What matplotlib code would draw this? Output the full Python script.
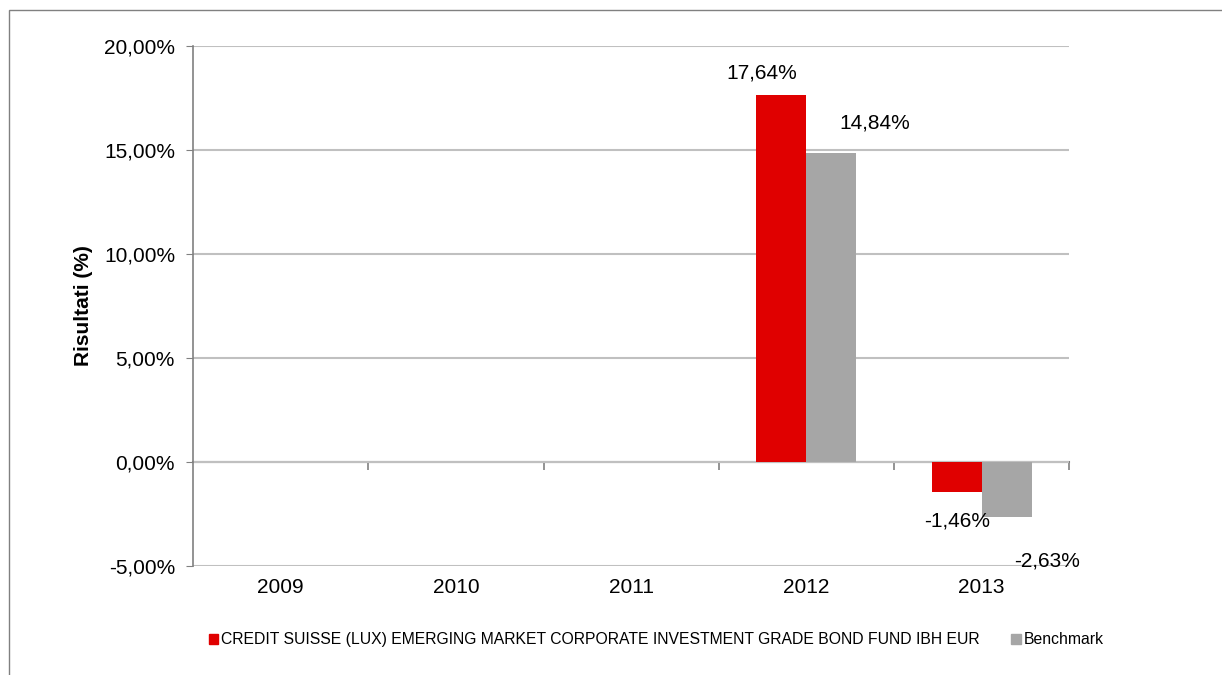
import numpy as np
import matplotlib.pyplot as plt
from matplotlib.patches import Rectangle, Patch

plt.rcParams['font.family'] = ['Liberation Sans', 'DejaVu Sans']

# dati
anni = ["2009", "2010", "2011", "2012", "2013"]
fondo = [np.nan, np.nan, np.nan, 17.64, -1.46]
benchmark = [np.nan, np.nan, np.nan, 14.84, -2.63]
nome_fondo = "CREDIT SUISSE (LUX) EMERGING MARKET CORPORATE INVESTMENT GRADE BOND FUND IBH EUR"
nome_bench = "Benchmark"

rosso = "#e00000"
grigio = "#a6a6a6"

fig = plt.figure(figsize=(12.22, 6.75), dpi=100)
ax = fig.add_axes([0.158, 0.1615, 0.717, 0.7704])

x = np.arange(len(anni))
w = 0.285
ax.bar(x - w / 2, fondo, w, color=rosso, zorder=3)
ax.bar(x + w / 2, benchmark, w, color=grigio, zorder=3)

# etichette
def fmt(v):
    return f"{v:.2f}%".replace(".", ",")

fs = 15
offs_f = [None, None, None, (-14, 9), (0, -14)]
offs_b = [None, None, None, (31, 15), (29, -25)]
for i in range(len(anni)):
    if not np.isnan(fondo[i]):
        va = "bottom" if fondo[i] >= 0 else "top"
        ax.annotate(fmt(fondo[i]), (x[i] - w / 2, fondo[i]), xytext=offs_f[i],
                    textcoords="offset points", ha="center", va=va, fontsize=fs)
    if not np.isnan(benchmark[i]):
        va = "bottom" if benchmark[i] >= 0 else "top"
        ax.annotate(fmt(benchmark[i]), (x[i] + w / 2, benchmark[i]), xytext=offs_b[i],
                    textcoords="offset points", ha="center", va=va, fontsize=fs)

ax.set_xlim(-0.5, len(anni) - 0.5)
ax.set_ylim(-5, 20)
ax.set_yticks([-5, 0, 5, 10, 15, 20])
ax.set_yticklabels([fmt(v) for v in [-5, 0, 5, 10, 15, 20]], fontsize=fs)
ax.set_xticks(x)
ax.set_xticklabels(anni, fontsize=fs)
ax.tick_params(axis="x", length=0, pad=9)
ax.tick_params(axis="y", length=5, color="#808080", direction="out", pad=8)
ax.grid(axis="y", color="#c0c0c0", lw=1.5, zorder=0)
for s in ["top", "right", "bottom"]:
    ax.spines[s].set_visible(False)
ax.spines["left"].set_color("#808080")
ax.spines["left"].set_linewidth(1.2)
ax.set_ylabel("Risultati (%)", fontsize=fs, fontweight="bold", labelpad=8)

# asse dello zero con tacche tra le categorie
sec = ax.secondary_xaxis(0.2)
sec.set_xticks(np.arange(len(anni)) + 0.5)
sec.set_xticklabels([])
sec.tick_params(length=6, color="#808080", direction="out", width=1.2)
sec.spines["bottom"].set_color("#808080")
sec.spines["bottom"].set_linewidth(1.5)

# legenda
handles = [Patch(color=rosso, label=nome_fondo), Patch(color=grigio, label=nome_bench)]
fig.legend(handles=handles, loc="center", bbox_to_anchor=(0.537, 0.052), ncol=2,
           frameon=False, fontsize=11.3, handlelength=0.6, handleheight=0.6,
           handletextpad=0.2, columnspacing=2.0)

# cornice
fig.add_artist(Rectangle((0.0074, -0.1), 1.2, 1.085, transform=fig.transFigure,
                         fill=False, edgecolor="#808080", lw=1))

fig.savefig("out.png", dpi=100)
